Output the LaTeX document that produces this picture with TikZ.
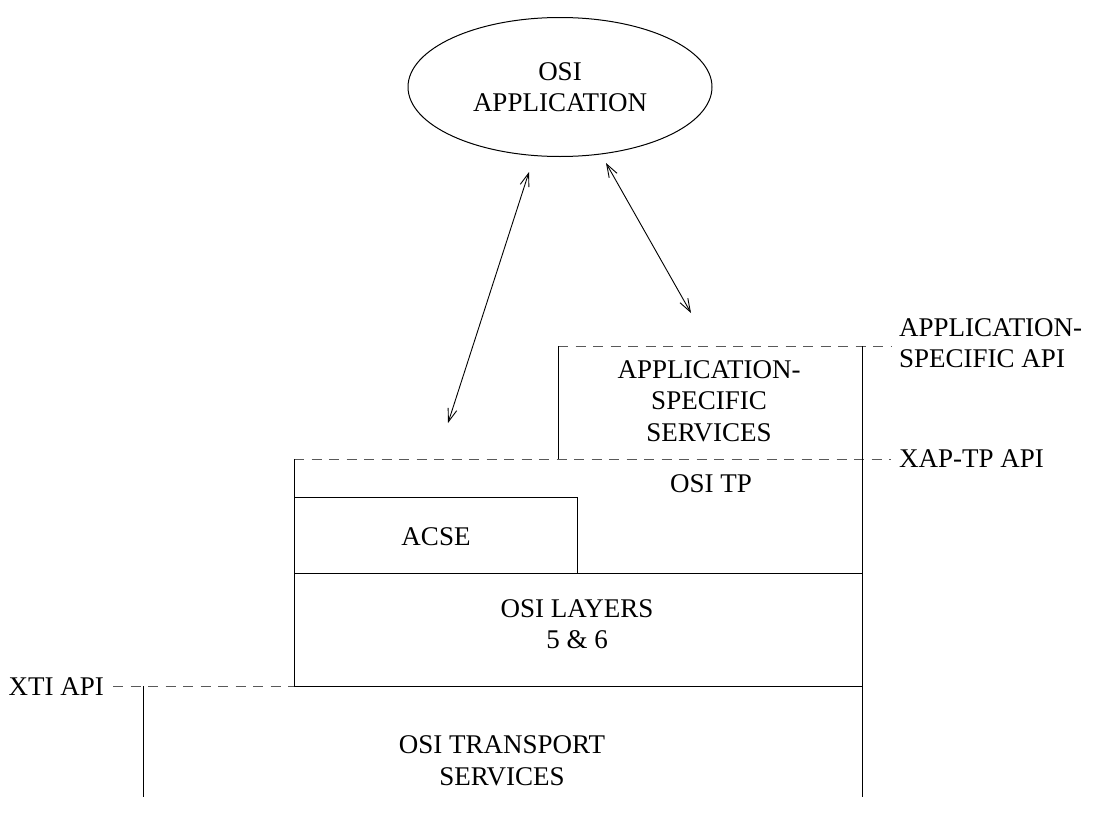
\documentclass[tikz,border=0pt]{standalone}
\usepackage{fontspec}
\setmainfont{Liberation Serif}
\usetikzlibrary{arrows.meta,shapes.geometric}
\begin{document}
\begin{tikzpicture}[x=1pt,y=-1pt,
  lbl/.style={font=\fontsize{27}{31.5}\selectfont, align=center, inner sep=0pt},
  solidline/.style={line width=1pt},
  dashline/.style={line width=1pt, dash pattern=on 10pt off 7.5pt, gray!70!black},
  dblarrow/.style={line width=0.9pt, {Straight Barb[length=13pt,width=9pt]}-{Straight Barb[length=13pt,width=9pt]}}]
\useasboundingbox (0,0) rectangle (1094,835);
% ellipse
\node[ellipse, draw, line width=1pt, minimum width=304pt, minimum height=139pt] (app) at (560,87) {};
\node[lbl] (applbl) at (560,87) {OSI\\APPLICATION};
% arrows
\coordinate (a1s) at (529,172);
\coordinate (a1e) at (448,423);
\coordinate (a2s) at (606,163);
\coordinate (a2e) at (691,313);
\draw[dblarrow] (a1s) -- (a1e);
\draw[dblarrow] (a2s) -- (a2e);
% coordinates
\coordinate (asTL) at (558,346);
\coordinate (asBL) at (558,459);
\coordinate (R1) at (862,346);
\coordinate (Rb) at (862,797);
\coordinate (tpL) at (294,459);
\coordinate (lay) at (294,573);
\coordinate (xti) at (294,686);
\coordinate (acTL) at (294,497);
\coordinate (acTR) at (577,497);
\coordinate (acBR) at (577,573);
\coordinate (layR) at (862,573);
\coordinate (xtiR) at (862,686);
\coordinate (trL) at (143,686);
\coordinate (trB) at (143,797);
\coordinate (d1e) at (891,346);
\coordinate (d2e) at (891,459);
\coordinate (d3s) at (113,686);
% dashed lines
\draw[dashline] (asTL) -- (d1e);
\draw[dashline] (tpL) -- (d2e);
\draw[dashline] (d3s) -- (xti);
% solid lines
\draw[solidline] (asTL) -- (asBL);
\draw[solidline] (R1) -- (Rb);
\draw[solidline] (tpL) -- (xti) -- (xtiR);
\draw[solidline] (acTL) -- (acTR) -- (acBR);
\draw[solidline] (lay) -- (layR);
\draw[solidline] (trL) -- (trB);
% labels
\node[lbl] (ass) at (709,401) {APPLICATION-\\SPECIFIC\\SERVICES};
\node[lbl] (tp) at (711,484) {OSI TP};
\node[lbl] (acse) at (436,537) {ACSE};
\node[lbl] (layers) at (577,624) {OSI LAYERS\\5 \& 6};
\node[lbl] (trans) at (502,761) {OSI TRANSPORT\\SERVICES};
\node[lbl, align=left, anchor=west] (asapi) at (899,343) {APPLICATION-\\SPECIFIC API};
\node[lbl, anchor=west] (xapi) at (899,459) {XAP-TP API};
\node[lbl, anchor=east] (xtiapi) at (104,687) {XTI API};
\end{tikzpicture}
\end{document}
